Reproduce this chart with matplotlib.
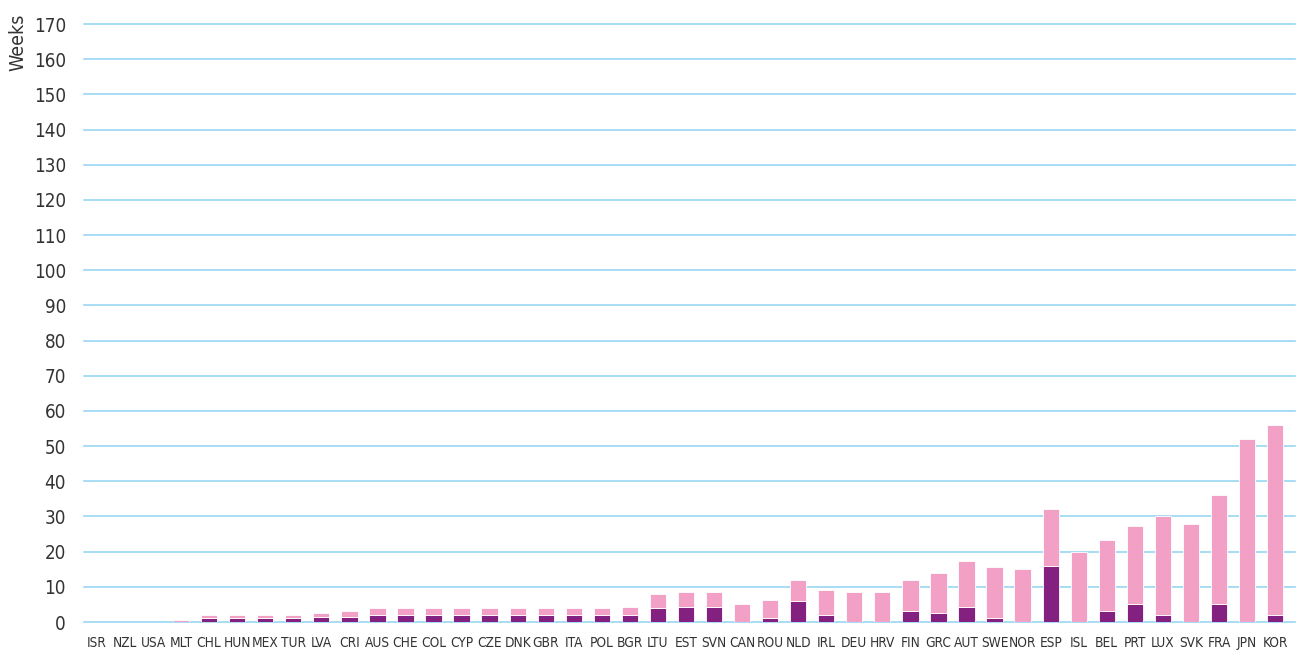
import numpy as np
import matplotlib
matplotlib.use("Agg")
import matplotlib.pyplot as plt

plt.rcParams['font.family'] = ['DejaVu Sans']
plt.rcParams['font.stretch'] = 'condensed'

# data
countries = ["ISR", "NZL", "USA", "MLT", "CHL", "HUN", "MEX", "TUR", "LVA", "CRI",
             "AUS", "CHE", "COL", "CYP", "CZE", "DNK", "GBR", "ITA", "POL", "BGR",
             "LTU", "EST", "SVN", "CAN", "ROU", "NLD", "IRL", "DEU", "HRV", "FIN",
             "GRC", "AUT", "SWE", "NOR", "ESP", "ISL", "BEL", "PRT", "LUX", "SVK",
             "FRA", "JPN", "KOR"]
# total weeks (top of the pink bar)
total = [0, 0, 0, 0.7, 2, 2, 2, 2, 2.7, 3,
         4, 4, 4, 4, 4, 4, 4, 4, 4, 4.3,
         8, 8.6, 8.6, 5, 6.3, 12, 9, 8.6, 8.6, 12,
         14, 17.2, 15.5, 15, 32, 20, 23.2, 27.2, 30, 28,
         36, 52, 56]
# dark part at the bottom
dark = [0, 0, 0, 0, 1, 1, 1, 1, 1.4, 1.5,
        2, 2, 2, 2, 2, 2, 2, 2, 2, 2.1,
        4, 4.3, 4.3, 0, 1, 6, 2, 0, 0, 3,
        2.6, 4.3, 1.2, 0, 16, 0, 3, 5, 2, 0,
        5, 0, 2]
yticks = list(range(0, 171, 10))

total = np.array(total)
dark = np.array(dark)
x = np.arange(len(countries))

fig = plt.figure(figsize=(13, 6.57), dpi=100)
ax = fig.add_axes([84/1300, 35/657, 1211/1300, 598/657])

ax.bar(x, dark, width=0.58, color="#84207f", edgecolor="white", linewidth=0.6, zorder=3)
ax.bar(x, total - dark, bottom=dark, width=0.58, color="#f2a0c6",
       edgecolor="white", linewidth=0.6, zorder=3)

ax.set_xlim(-0.46, len(countries) - 0.29)
ax.set_ylim(0, 170)
ax.set_yticks(yticks)
for t in yticks:
    ax.axhline(t, color="#8fd3f0", linewidth=1.1, zorder=1, clip_on=False)

ax.set_xticks(x)
ax.set_xticklabels(countries)
ax.tick_params(axis="x", length=0, pad=10, labelsize=9.8, labelcolor="#333333")
ax.tick_params(axis="y", length=0, pad=13, labelsize=13.5, labelcolor="#333333")
for s in ax.spines.values():
    s.set_visible(False)

fig.text(18/1300, 1 - 42/657, "Weeks", rotation=90, ha="center", va="center",
         fontsize=14, color="#333333")

fig.savefig("out.png", dpi=100)
